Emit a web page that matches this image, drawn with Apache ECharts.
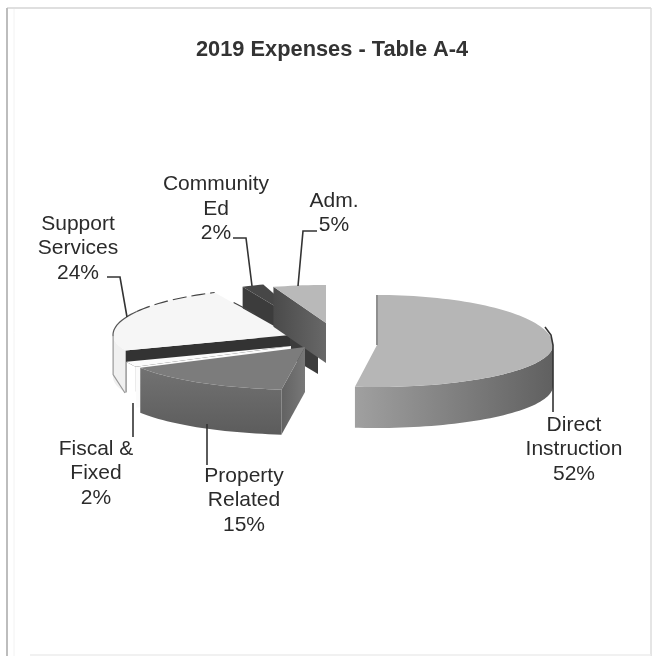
<!DOCTYPE html>
<html>
<head>
<meta charset="utf-8">
<style>html,body{margin:0;padding:0;background:#fff}#chart{width:653px;height:657px}</style>
<script src="https://cdn.jsdelivr.net/npm/echarts@6/dist/echarts.min.js"></script>
</head>
<body>
<div id="chart"></div>
<script>
// 2019 expense shares, clockwise from twelve o'clock
const categories = ['Direct\nInstruction', 'Property\nRelated', 'Fiscal &\nFixed', 'Support\nServices', 'Community\nEd', 'Adm.'];
const shares = [52, 15, 2, 24, 2, 5];
const chartTitle = '2019 Expenses - Table A-4';

// Exploded offset, ellipse radii and wall depth of each wedge
const wedgeLayout = [
  {cx: 377, cy: 345, rx: 176, back: 50, front: 42, depth: 41, z: 60},
  {cx: 305, cy: 347, rx: 188, back: 50, front: 43, depth: 45, z: 50},
  {cx: 291, cy: 346, rx: 177, back: 50, front: 43, depth: 41, z: 40},
  {cx: 290, cy: 335, rx: 177, back: 47, front: 42, depth: 42, z: 20},
  {cx: 318, cy: 332, rx: 177, back: 50, front: 42, depth: 42, z: 10},
  {cx: 326, cy: 323, rx: 170, back: 38, front: 40, depth: 40, z: 30}
];
const vertical = (from, to) => ({type: 'linear', x: 0, y: 0, x2: 0, y2: 1, colorStops: [{offset: 0, color: from}, {offset: 1, color: to}]});
const horizontal = (from, to) => ({type: 'linear', x: 0, y: 0, x2: 1, y2: 0, colorStops: [{offset: 0, color: from}, {offset: 1, color: to}]});
const wedgeColors = [
  {top: '#b6b6b6', wall: horizontal('#a0a0a0', '#606060'), cut: '#8a8a8a'},
  {top: '#7c7c7c', wall: vertical('#727272', '#5c5c5c'), cut: horizontal('#626262', '#787878')},
  {top: '#fbfbfb', wall: '#ffffff', cut: '#fbfbfb'},
  {top: '#f6f6f6', wall: '#f0f0f0', cut: '#333333'},
  {top: '#474747', wall: '#474747', cut: '#3c3c3c'},
  {top: '#b9b9b9', wall: '#666666', cut: horizontal('#4a4a4a', '#686868')}
];

// Text anchors and leader lines of the callouts
const calloutLayout = [
  {x: 574, y: 449.5, line: [[545, 327], [551, 335], [553, 345], [553, 412]]},
  {x: 244, y: 500.5, line: [[207, 424], [207, 465]]},
  {x: 96, y: 473.5, line: [[133, 403], [133, 437]]},
  {x: 78, y: 248.5, line: [[107, 277], [120, 277], [127, 317]]},
  {x: 216, y: 209, line: [[233, 238], [246, 238], [252, 286]]},
  {x: 334, y: 213, line: [[317, 231], [303, 231], [298, 286]]}
];

const rad = d => d * Math.PI / 180;
const rimPoint = (s, deg) => {
  const c = Math.cos(rad(deg));
  return [s.cx + s.rx * Math.sin(rad(deg)), s.cy - (c > 0 ? s.back : s.front) * c];
};
const arcPoints = (s, a, b) => {
  const pts = [];
  for (let d = a; d < b; d += 2) pts.push(rimPoint(s, d));
  pts.push(rimPoint(s, b));
  return pts;
};
const lowered = (pts, depth) => pts.map(p => [p[0], p[1] + depth]).reverse();
const total = shares.reduce((sum, v) => sum + v, 0);
const startAngles = shares.map((_, i) => shares.slice(0, i).reduce((sum, v) => sum + v, 0) / total * 360);

function renderWedge(params, api) {
  const i = params.dataIndex;
  const s = wedgeLayout[i], col = wedgeColors[i];
  const a = api.value(1), b = a + api.value(2) / total * 360;
  const kids = [];
  const poly = (points, fill, dz) => kids.push({type: 'polygon', shape: {points}, z2: s.z + dz, style: {fill, stroke: null}});
  const stroke = (points, color, lineWidth, lineDash) => kids.push({type: 'polyline', shape: {points}, z2: s.z + 3, style: {fill: null, stroke: color, lineWidth, lineDash}});

  // Cut face on the side of the wedge that looks towards the viewer
  [[a, Math.sin(rad(a)) < -1e-6], [b, Math.sin(rad(b)) > 1e-6]].forEach(([deg, visible]) => {
    if (!visible) return;
    const centre = [s.cx, s.cy], rim = rimPoint(s, deg);
    poly([centre, rim, [rim[0], rim[1] + s.depth], [s.cx, s.cy + s.depth]], col.cut, 0);
  });
  // Outer wall, front half of the ellipse only
  const w0 = Math.max(a, 90), w1 = Math.min(b, 270);
  if (w1 > w0) {
    const rim = arcPoints(s, w0, w1);
    poly(rim.concat(lowered(rim, s.depth)), col.wall, 1);
  }
  // Top surface
  poly([[s.cx, s.cy]].concat(arcPoints(s, a, b)), col.top, 2);

  // Support Services keeps a dark rim line on its pale top and wall
  if (i === 3) {
    stroke(arcPoints(s, 300, b), '#444', 1.2, [14, 5]);
    stroke(arcPoints(s, 268, 300), '#555', 1.2);
    const end = rimPoint(s, b);
    stroke([[end[0] + 19, end[1] + 10], [end[0] + 40, end[1] + 21]], '#444', 1.2);
    const left = rimPoint(s, 268);
    stroke([left, [left[0], left[1] + s.depth - 4], [s.cx - 165, s.cy + 58]], '#999', 1.2);
  }
  if (i === 0) {
    stroke([[s.cx, s.cy - s.back], [s.cx, s.cy]], '#8f8f8f', 2);
  }

  // Callout
  const c = calloutLayout[i];
  kids.push({type: 'polyline', shape: {points: c.line}, z2: 100, style: {fill: null, stroke: '#333', lineWidth: 1.6}});
  kids.push({type: 'text', x: c.x, y: c.y, z2: 101, style: {
    text: api.value(3) + '\n' + api.value(2) + '%',
    x: 0, y: 0, align: 'center', verticalAlign: 'middle',
    font: '21px "Liberation Sans", Arial, sans-serif', lineHeight: 24.5, fill: '#2b2b2b'
  }});
  return {type: 'group', children: kids};
}

const frameLine = (x1, y1, x2, y2, color, width) => ({
  type: 'line', silent: true, z: -1,
  shape: {x1, y1, x2, y2}, style: {stroke: color, lineWidth: width}
});

const chart = echarts.init(document.getElementById('chart'), null, {renderer: 'canvas'});
chart.setOption({
  backgroundColor: '#ffffff',
  animation: false,
  title: {
    text: chartTitle, left: 191, top: 34,
    textStyle: {fontFamily: '"Liberation Sans", Arial, sans-serif', fontSize: 21.8, fontWeight: 'bold', color: '#333'}
  },
  graphic: [
    frameLine(7, 8, 651, 8, '#d4d4d4', 1.5),
    frameLine(7, 8, 7, 656, '#bdbdbd', 2),
    frameLine(14, 9, 14, 656, '#f2f2f2', 1),
    frameLine(651, 8, 651, 656, '#dcdcdc', 1.5),
    frameLine(30, 655, 651, 655, '#ececec', 1.5)
  ],
  series: [{
    type: 'custom',
    coordinateSystem: 'none',
    renderItem: renderWedge,
    silent: true,
    data: categories.map((name, i) => [i, startAngles[i], shares[i], name])
  }]
});
</script>
</body>
</html>
